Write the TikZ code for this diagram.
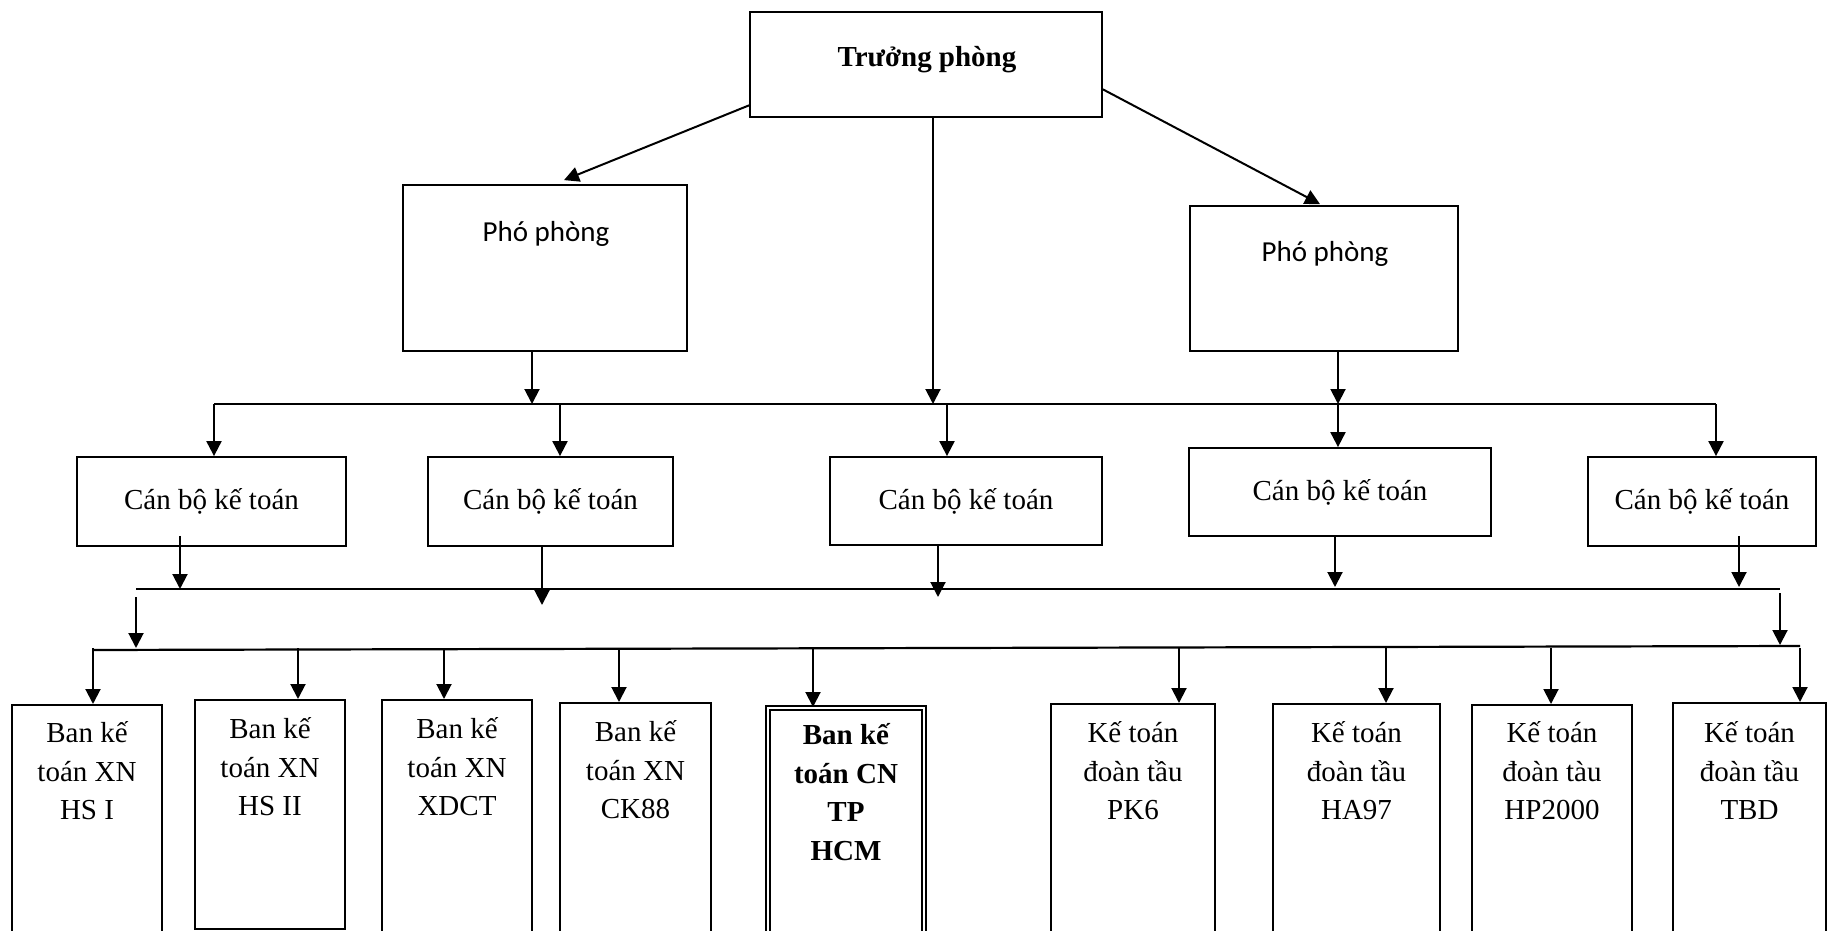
\documentclass[tikz,border=0pt]{standalone}
\usepackage{fontspec}
\setmainfont{Liberation Serif}
\newfontfamily\calibri{Carlito}
\usetikzlibrary{arrows.meta}

\begin{document}
\begin{tikzpicture}[x=0.5pt,y=-0.5pt,
    box/.style={draw,line width=0.9pt,inner sep=0pt,font=\fontsize{14.5}{19.25}\selectfont},
    txt/.style={align=center,inner sep=0pt,font=\fontsize{14.5}{19.25}\selectfont},
    arr/.style={line width=1pt,-{Triangle[length=7.5pt,width=7.5pt]}},
    bus/.style={line width=1.1pt}]
\useasboundingbox (0,0) rectangle (1827,931);
\clip (0,0) rectangle (1827,931);

% lanh dao
\node[box,minimum width=176pt,minimum height=52.5pt] (tp) at (926,64.5) {};
\node[txt] (tpt) at (927,60) {\textbf{Trưởng phòng}};
\node[box,minimum width=142pt,minimum height=83pt] (ppl) at (545,268) {};
\node[txt,font=\calibri\fontsize{14.5}{19}\selectfont] (pplt) at (546,234) {Phó phòng};
\node[box,minimum width=134pt,minimum height=72.5pt] (ppr) at (1324,278.5) {};
\node[txt,font=\calibri\fontsize{14.5}{19}\selectfont] (pprt) at (1325,254) {Phó phòng};

\draw[arr] (tp.193.6) -- ([shift={(19,-4)}]ppl.north);
\draw[arr] (tp.352) -- ([shift={(-4,-1)}]ppr.north);

% can bo ke toan
\node[box,minimum width=134.5pt,minimum height=44.5pt] (cb1) at (211.5,501.5) {Cán bộ kế toán};
\node[box,minimum width=122.5pt,minimum height=44.5pt] (cb2) at (550.5,501.5) {Cán bộ kế toán};
\node[box,minimum width=136pt,minimum height=44pt] (cb3) at (966,501) {Cán bộ kế toán};
\node[box,minimum width=151pt,minimum height=44pt] (cb4) at (1340,492) {Cán bộ kế toán};
\node[box,minimum width=114pt,minimum height=44.5pt] (cb5) at (1702,501.5) {Cán bộ kế toán};

% bus 1
\coordinate (b1l) at (214,404);
\coordinate (b1r) at (1716,404);
\draw[bus] (b1l) -- (b1r);
\coordinate (p0) at (933,404);
\coordinate (p1) at (532,404);
\coordinate (p2) at (1338,404);
\draw[arr] (tp.south -| p0) -- (p0);
\draw[arr] (ppl.south -| p1) -- (p1);
\draw[arr] (ppr.south -| p2) -- (p2);
\foreach \x [count=\i] in {214,560,947,1338,1716}{
    \coordinate (d\i) at (\x,404);
    \draw[arr] (d\i) -- (d\i |- cb\i.north);
}

% bus 2
\coordinate (b2l) at (136,589);
\coordinate (b2r) at (1780,589);
\draw[bus] (b2l) -- (b2r);
\coordinate (e1) at (180,589);
\coordinate (e2) at (542,605);
\coordinate (e3) at (938,597);
\coordinate (e4) at (1335,587);
\coordinate (e5) at (1739,587);
\draw[arr] (e1 |- cb1.south) ++(0,-11) -- (e1);
\draw[arr] (cb2.south -| e2) -- (e2);
\draw[arr] (cb3.south -| e3) -- (e3);
\draw[arr] (cb4.south -| e4) -- (e4);
\draw[arr] (e5 |- cb5.south) ++(0,-11) -- (e5);

% bus 3
\coordinate (b3l) at (93,650);
\coordinate (b3r) at (1800,646);
\draw[bus] (b3l) -- (b3r);
\draw[arr] (b2l) ++(0,8) -- (136,648);
\draw[arr] (b2r) ++(0,4) -- (1780,645);

% ban ke toan
\node[box,anchor=north,minimum width=75pt,minimum height=120.5pt] (bA) at (87,704) {};
\node[box,anchor=north,minimum width=75pt,minimum height=114.5pt] (bB) at (270,699) {};
\node[box,anchor=north,minimum width=75pt,minimum height=123pt] (bC) at (457,699) {};
\node[box,anchor=north,minimum width=75.5pt,minimum height=121.5pt] (bD) at (635.5,702) {};
\node[box,double,double distance=0.8pt,line width=1.1pt,anchor=north,minimum width=78pt,minimum height=119pt] (bE) at (846,707) {};
\node[box,anchor=north,minimum width=82pt,minimum height=121pt] (bF) at (1133,703) {};
\node[box,anchor=north,minimum width=83.5pt,minimum height=121pt] (bG) at (1356.5,703) {};
\node[box,anchor=north,minimum width=80pt,minimum height=120.5pt] (bH) at (1552,704) {};
\node[box,anchor=north,minimum width=76.5pt,minimum height=121.5pt] (bI) at (1749.5,702) {};

\node[txt] (tA) at (87,771) {Ban kế\\toán XN\\HS I};
\node[txt] (tB) at (270,767) {Ban kế\\toán XN\\HS II};
\node[txt] (tC) at (457,767) {Ban kế\\toán XN\\XDCT};
\node[txt] (tD) at (635.5,770) {Ban kế\\toán XN\\CK88};
\node[txt,font=\bfseries\fontsize{14.5}{19.25}\selectfont] (tE) at (846,792) {Ban kế\\toán CN\\TP\\HCM};
\node[txt] (tF) at (1133,771) {Kế toán\\đoàn tầu\\PK6};
\node[txt] (tG) at (1356.5,771) {Kế toán\\đoàn tầu\\HA97};
\node[txt] (tH) at (1552,771) {Kế toán\\đoàn tàu\\HP2000};
\node[txt] (tI) at (1749.5,771) {Kế toán\\đoàn tầu\\TBD};

\foreach \x/\n in {93/A,298/B,444/C,619/D,813/E,1179/F,1386/G,1551/H,1800/I}{
    \coordinate (f\n) at (\x,648);
    \draw[arr] (f\n) -- (f\n |- b\n.north);
}
\end{tikzpicture}
\end{document}
